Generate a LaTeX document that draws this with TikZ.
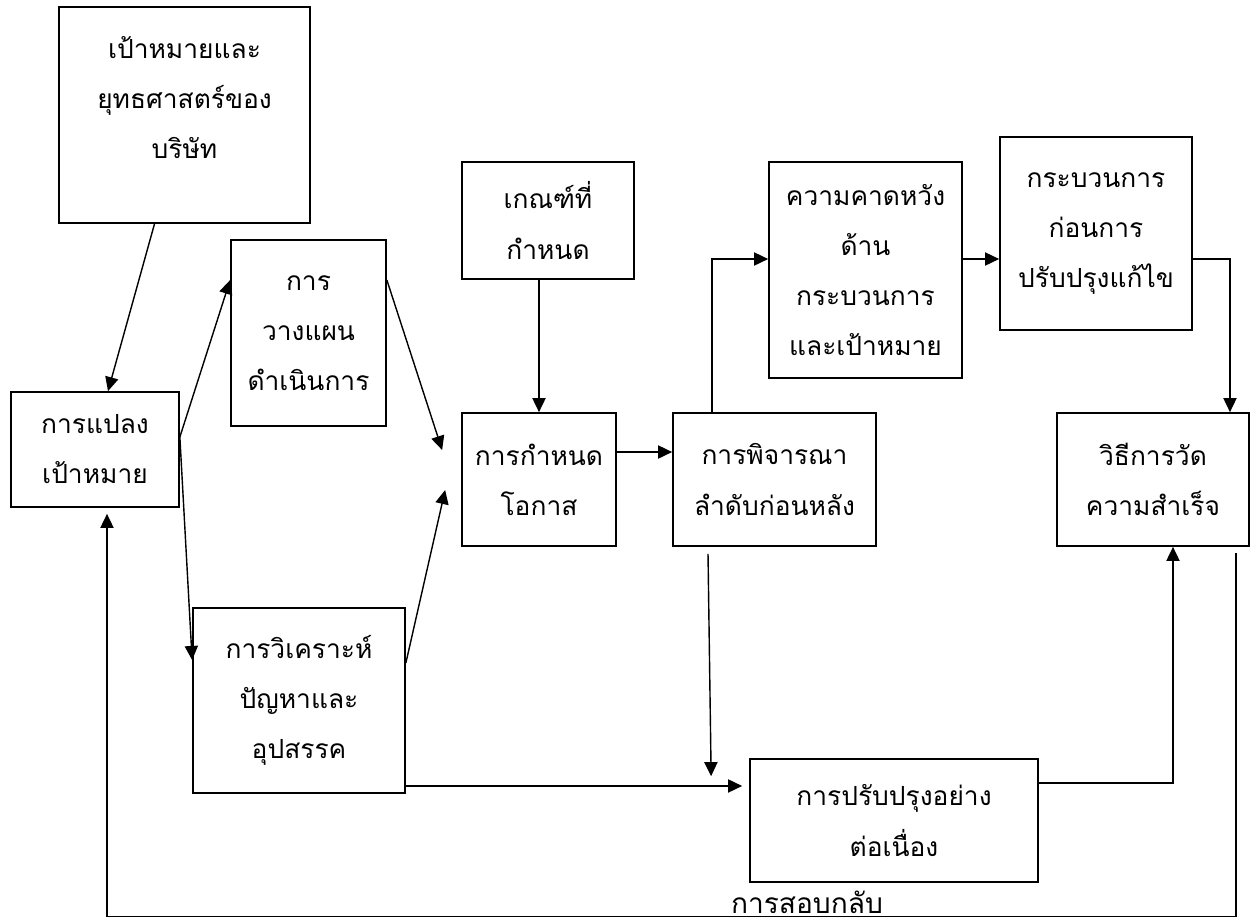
\documentclass[tikz,border=0pt]{standalone}
\usepackage{fontspec}
\newfontfamily\thaifont[Script=Thai]{Loma}
\usetikzlibrary{arrows.meta}

\begin{document}
\begin{tikzpicture}[x=0.02cm,y=-0.02cm,
        flow/.style={line width=0.8pt,-{Triangle[length=8pt,width=7.5pt]}}]

        \useasboundingbox (0,0) rectangle (1259,917);

        \begin{scope}[every node/.style={draw,line width=1pt,align=center,inner sep=0pt,
            font=\thaifont\fontsize{15}{28.5}\selectfont}]
          \node[minimum width=5.02cm,minimum height=4.32cm] (goal)    at (184.5,115)  {เป้าหมายและ\\ยุทธศาสตร์ของ\\บริษัท\\[-9pt]\mbox{}};
          \node[minimum width=3.36cm,minimum height=2.30cm] (trans)   at (95,449.5)   {การแปลง\\เป้าหมาย};
          \node[minimum width=3.10cm,minimum height=3.72cm] (plan)    at (308.5,333)  {การ\\วางแผน\\ดำเนินการ};
          \node[minimum width=3.44cm,minimum height=2.34cm] (crit)    at (548,220.5)  {เกณฑ์ที่\\กำหนด};
          \node[minimum width=3.08cm,minimum height=2.66cm] (opp)     at (539,479.5)  {การกำหนด\\โอกาส};
          \node[minimum width=4.06cm,minimum height=2.66cm] (prio)    at (774.5,479.5) {การพิจารณา\\ลำดับก่อนหลัง};
          \node[minimum width=3.86cm,minimum height=4.32cm] (expect)  at (865.5,270)  {ความคาดหวัง\\ด้าน\\กระบวนการ\\และเป้าหมาย};
          \node[minimum width=3.84cm,minimum height=3.86cm] (proc)    at (1096,233.5) {กระบวนการ\\ก่อนการ\\ปรับปรุงแก้ไข};
          \node[minimum width=3.84cm,minimum height=2.66cm] (measure) at (1153,479.5) {วิธีการวัด\\ความสำเร็จ};
          \node[minimum width=4.24cm,minimum height=3.70cm] (anal)    at (299,700.5)  {การวิเคราะห์\\ปัญหาและ\\อุปสรรค};
          \node[minimum width=5.76cm,minimum height=2.46cm] (improve) at (894,820.5)  {การปรับปรุงอย่าง\\ต่อเนื่อง};
        \end{scope}

        \begin{scope}[every edge/.style={draw,flow}]
          \path ([xshift=-0.6cm]goal.south) edge ([xshift=0.26cm]trans.north);
          \path ([yshift=0.25cm]trans.east) edge ([yshift=1.06cm]plan.west);
          \path ([yshift=0.25cm]trans.east) edge ([yshift=0.81cm]anal.west);
          \path ([yshift=1.06cm]plan.east) edge ([xshift=-0.38cm,yshift=0.59cm]opp.west);
          \path ([yshift=0.75cm]anal.east) edge ([xshift=-0.32cm,yshift=-0.21cm]opp.west);
          \path (crit.south -| opp.north) edge (opp.north);
          \path ([yshift=0.55cm]opp.east) edge ([yshift=0.55cm]prio.west);
          \path ([xshift=-1.33cm,yshift=-0.14cm]prio.south) edge ([xshift=-0.76cm,yshift=-0.36cm]improve.north west);
        \end{scope}

        \draw[flow] ([xshift=-1.25cm]prio.north) |- ([yshift=0.22cm]expect.west);
        \draw[flow] ([yshift=0.22cm]expect.east) coordinate (ex) -- (ex -| proc.west);
        \draw[flow] (ex -| proc.east) -| ([xshift=1.54cm]measure.north);
        \draw[flow,shorten >=0.14cm] ([yshift=-1.71cm]anal.east) coordinate (ax) -- (ax -| improve.west);
        \draw[flow] ([yshift=0.75cm]improve.east) -| ([xshift=0.4cm]measure.south);
        \draw[flow] ([xshift=1.66cm,yshift=-0.12cm]measure.south) -- ++(0,364)
          -| node[pos=0.19,above,inner sep=1.5pt,font=\thaifont\fontsize{16}{20}\selectfont] (fbk) {การสอบกลับ}
          ([xshift=0.24cm,yshift=-0.12cm]trans.south);

\end{tikzpicture}
\end{document}
